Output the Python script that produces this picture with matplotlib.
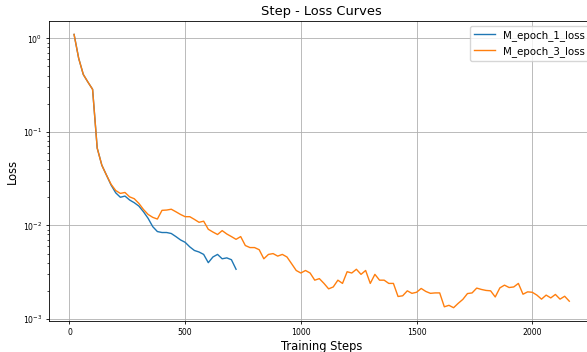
import numpy as np
import matplotlib
matplotlib.use("Agg")
import matplotlib.pyplot as plt

# logged every 20 steps
steps_1 = np.arange(20, 740, 20)
loss_1 = [1.10, 0.61, 0.41, 0.34, 0.285, 0.067, 0.044, 0.0345, 0.027, 0.0223,
          0.0200, 0.0206, 0.0187, 0.0175, 0.0161, 0.0140, 0.0119, 0.0097, 0.0086, 0.0084,
          0.0084, 0.0082, 0.0076, 0.0070, 0.0066, 0.0059, 0.0054, 0.0052, 0.0049, 0.0040,
          0.0046, 0.0049, 0.0044, 0.0045, 0.0043, 0.0034]

steps_3 = np.arange(20, 2180, 20)
loss_3 = [1.10, 0.61, 0.41, 0.34, 0.285, 0.067, 0.044, 0.0345, 0.0275, 0.0236,
          0.0220, 0.0225, 0.0202, 0.0193, 0.0172, 0.0148, 0.0131, 0.0122, 0.0117, 0.0145,
          0.0146, 0.0149, 0.0140, 0.0131, 0.0124, 0.0124, 0.0116, 0.0108, 0.0111, 0.0091,
          0.0085, 0.0080, 0.0088, 0.0081, 0.0076, 0.0071, 0.0076, 0.0061, 0.0058, 0.0058,
          0.0055, 0.0044, 0.0049, 0.0050, 0.0047, 0.0049, 0.0046, 0.0039, 0.0033, 0.0031,
          0.0033, 0.0031, 0.0026, 0.0027, 0.0024, 0.0021, 0.0022, 0.0026, 0.0024, 0.0032,
          0.0031, 0.0034, 0.0030, 0.0033, 0.0024, 0.0030, 0.0026, 0.0026, 0.0024, 0.0024,
          0.00174, 0.00177, 0.0020, 0.00188, 0.00193, 0.00212, 0.00197, 0.00188, 0.0019, 0.0019,
          0.00135, 0.0014, 0.00132, 0.00147, 0.00162, 0.00187, 0.0019, 0.00214, 0.00207, 0.00202,
          0.0020, 0.00172, 0.00215, 0.0023, 0.00217, 0.0022, 0.0024, 0.00184, 0.00195, 0.00193,
          0.0018, 0.00163, 0.0018, 0.00168, 0.00183, 0.00163, 0.00175, 0.00155]

plt.rcParams.update({
    "font.family": "DejaVu Sans",
    "axes.linewidth": 0.6,
    "xtick.major.size": 2.5,
    "ytick.major.size": 2.5,
    "ytick.minor.size": 1.5,
    "xtick.major.width": 0.6,
    "ytick.major.width": 0.6,
    "ytick.minor.width": 0.5,
    "xtick.major.pad": 2.5,
    "ytick.major.pad": 2.5,
})

fig = plt.figure(figsize=(5.87, 3.52), dpi=100)
ax = fig.add_axes([0.084, 0.087, 0.928, 0.854])

ax.plot(steps_1, loss_1, color="#1f77b4", linewidth=1.0, label="M_epoch_1_loss")
ax.plot(steps_3, loss_3, color="#ff7f0e", linewidth=1.0, label="M_epoch_3_loss")
ax.set_yscale("log")

ax.set_title("Step - Loss Curves", fontsize=9.4, pad=4)
ax.set_xlabel("Training Steps", fontsize=8.3, labelpad=2)
ax.set_ylabel("Loss", fontsize=8.3, labelpad=3)
ax.tick_params(labelsize=5.6)
ax.grid(True, color="#b0b0b0", linewidth=0.6)
ax.legend(loc="upper right", fontsize=7.4, handlelength=2.0, borderpad=0.4,
          labelspacing=0.5, framealpha=0.8)

fig.savefig("out.png", dpi=100)
